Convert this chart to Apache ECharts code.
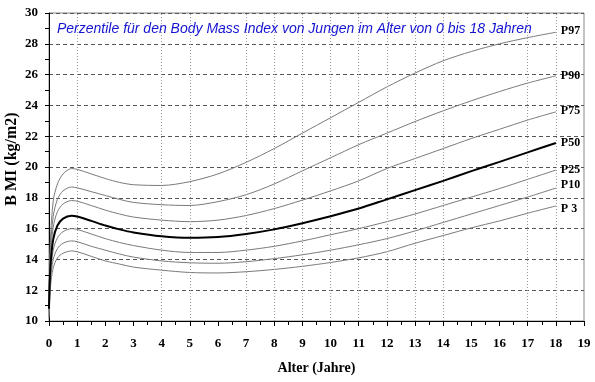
<!DOCTYPE html>
<html>
<head>
<meta charset="utf-8">
<script src="https://cdn.jsdelivr.net/npm/echarts@6/dist/echarts.min.js"></script>
<style>html,body{margin:0;padding:0;background:#fff;}#c{width:595px;height:382px;}</style>
</head>
<body>
<div id="c"></div>
<script>
const ages = [0,0.05,0.15,0.3,0.5,0.8,1,1.5,2,2.5,3,4,5,6,7,8,9,10,11,12,13,14,15,16,17,18];
const P97 = [11.4,15.2,17.8,18.9,19.55,19.9,19.85,19.55,19.25,19.0,18.85,18.8,19.05,19.55,20.3,21.2,22.2,23.2,24.2,25.2,26.1,26.9,27.5,28.0,28.4,28.75];
const P90 = [11.2,14.6,16.8,17.9,18.45,18.7,18.65,18.4,18.15,17.9,17.7,17.55,17.5,17.75,18.2,18.9,19.75,20.6,21.45,22.2,22.95,23.65,24.3,24.9,25.45,25.92];
const P75 = [11.0,14.1,16.1,17.1,17.6,17.82,17.78,17.5,17.2,16.95,16.75,16.55,16.45,16.55,16.85,17.3,17.85,18.45,19.1,19.9,20.55,21.2,21.85,22.45,23.05,23.58];
const P50 = [10.8,13.5,15.3,16.2,16.65,16.83,16.78,16.5,16.2,15.95,15.75,15.5,15.4,15.45,15.65,15.95,16.35,16.8,17.3,17.9,18.5,19.1,19.73,20.33,20.95,21.56];
const P25 = [10.6,13.0,14.6,15.4,15.8,16.0,15.95,15.65,15.35,15.1,14.9,14.6,14.45,14.45,14.6,14.85,15.2,15.6,16.0,16.45,16.95,17.5,18.05,18.6,19.2,19.8];
const P10 = [10.4,12.6,14.0,14.7,15.05,15.2,15.15,14.85,14.6,14.35,14.15,13.9,13.78,13.75,13.85,14.05,14.3,14.6,14.95,15.35,15.85,16.4,16.95,17.5,18.05,18.63];
const P3  = [10.2,12.2,13.45,14.1,14.4,14.55,14.5,14.2,13.9,13.7,13.5,13.3,13.15,13.12,13.2,13.35,13.55,13.8,14.1,14.5,15.05,15.55,16.05,16.5,17.0,17.47];
const seriesNames = ['P97','P90','P75','P50','P25','P10','P 3'];
const seriesValues = [P97,P90,P75,P50,P25,P10,P3];
const verticalGridAges = [1,4,5,7,8,9,10,11,12,13,14,17,18];
const titleText = 'Perzentile für den Body Mass Index von Jungen im Alter von 0 bis 18 Jahren';
const xName = 'Alter (Jahre)';
const yName = 'B MI (kg/m2)';

const serif = 'Liberation Serif, Times New Roman, serif';
const labelOffsets = [[0,-1],[0,0],[0,-1],[0,0],[0,0],[0,-3],[0,3]];

const series = seriesNames.map((n, k) => ({
  name: n,
  type: 'line',
  data: ages.map((a, i) => [a, seriesValues[k][i]]),
  smooth: 0.3,
  showSymbol: false,
  symbol: 'none',
  z: n === 'P50' ? 5 : 4,
  lineStyle: { color: n === 'P50' ? '#000' : '#7a7a7a', width: n === 'P50' ? 2 : 1 },
  endLabel: {
    show: true, formatter: '{a}', distance: 5, offset: labelOffsets[k],
    fontFamily: serif, fontWeight: 'bold', fontSize: 12, color: '#000'
  }
}));
series.push({
  type: 'line', data: [], silent: true, z: 1,
  markLine: {
    silent: true, symbol: 'none', animation: false,
    label: { show: false },
    lineStyle: { type: [1, 2], color: '#9a9a9a', width: 1 },
    data: verticalGridAges.map(v => ({ xAxis: v }))
  }
});

const chart = echarts.init(document.getElementById('c'), null, { renderer: 'canvas' });
chart.setOption({
  animation: false,
  backgroundColor: '#fff',
  title: {
    text: titleText, left: 52, top: 17,
    textStyle: { fontFamily: 'Liberation Sans, Arial, sans-serif', fontStyle: 'italic', fontWeight: 'normal', fontSize: 14, color: '#1414d2' }
  },
  grid: { left: 49, right: 11, top: 13, bottom: 61, containLabel: false, outerBoundsMode: 'none', show: true, borderColor: '#888', borderWidth: 1 },
  xAxis: {
    type: 'value', min: 0, max: 19, interval: 1,
    name: xName, nameLocation: 'middle', nameGap: 40, nameMoveOverlap: false,
    nameTextStyle: { fontFamily: serif, fontWeight: 'bold', fontSize: 14, color: '#000' },
    axisLine: { lineStyle: { color: '#000', width: 1 } },
    axisTick: { show: true, length: 5, lineStyle: { color: '#000' } },
    minorTick: { show: true, splitNumber: 2, length: 4, lineStyle: { color: '#000' } },
    axisLabel: { margin: 16, fontFamily: serif, fontWeight: 'bold', fontSize: 13, color: '#000' },
    splitLine: { show: false }
  },
  yAxis: {
    type: 'value', min: 10, max: 30, interval: 2,
    name: yName, nameLocation: 'middle', nameGap: 29, nameRotate: 90, nameMoveOverlap: false,
    nameTextStyle: { fontFamily: serif, fontWeight: 'bold', fontSize: 16, color: '#000', padding: [0, 0, 0, 16] },
    axisLine: { show: true, lineStyle: { color: '#000', width: 1 } },
    axisTick: { show: true, length: 4, lineStyle: { color: '#000' } },
    minorTick: { show: true, splitNumber: 2, length: 4, lineStyle: { color: '#000' } },
    axisLabel: { margin: 11, fontFamily: serif, fontWeight: 'bold', fontSize: 13, color: '#000' },
    splitLine: { show: true, lineStyle: { type: [4, 3], color: '#555', width: 1 } }
  },
  series: series
});
</script>
</body>
</html>
